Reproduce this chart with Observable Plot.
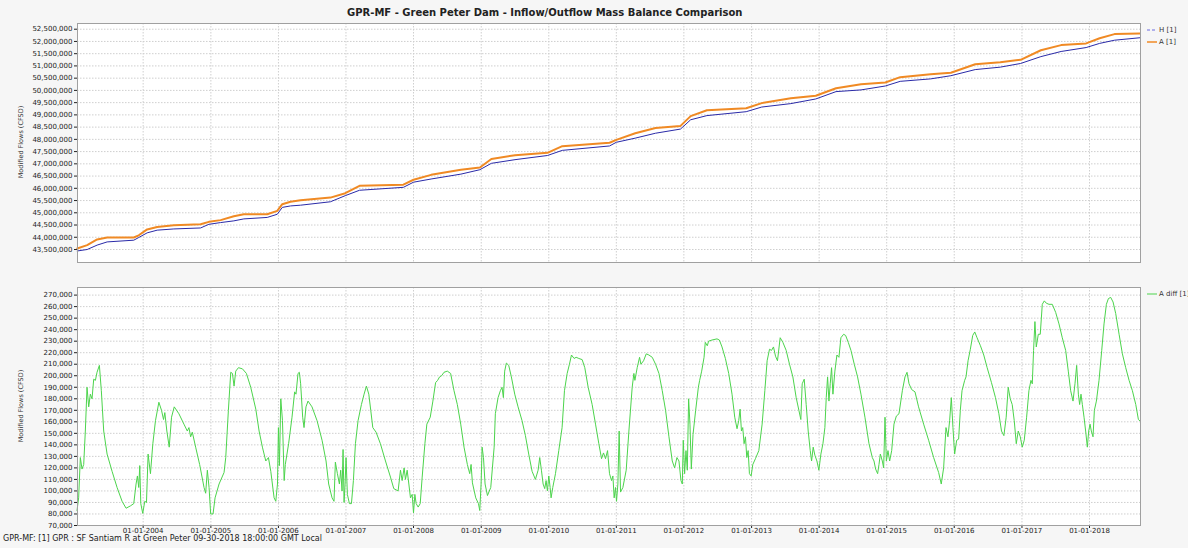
<!DOCTYPE html>
<html><head><meta charset="utf-8">
<script src="https://cdn.jsdelivr.net/npm/d3@7"></script>
<script src="https://cdn.jsdelivr.net/npm/@observablehq/plot@0.6"></script>
<style>
html,body{margin:0;padding:0;background:#f6f6f6;}
#wrap{position:relative;width:1188px;height:548px;overflow:hidden;font-family:"DejaVu Sans",sans-serif;color:#222;}
#title{position:absolute;left:347px;top:7px;font-weight:bold;font-size:10px;line-height:12px;white-space:nowrap;color:#222;}
.chart{position:absolute;left:0;}
.leg{position:absolute;left:1147px;font-size:7px;white-space:nowrap;display:flex;align-items:center;color:#333;}
.leg svg{margin-right:2px;}
.ylab{position:absolute;font-size:6.5px;white-space:nowrap;color:#333;transform:translate(-50%,-50%) rotate(-90deg);}
#footer{position:absolute;left:3px;top:535px;font-size:8px;line-height:8px;white-space:nowrap;color:#222;}
</style></head>
<body><div id="wrap">
<div id="title">GPR-MF - Green Peter Dam - Inflow/Outflow Mass Balance Comparison</div>
<div id="topChart" class="chart" style="top:0px"></div>
<div id="botChart" class="chart" style="top:270px"></div>
<div class="ylab" style="left:21px;top:142px">Modified Flows (CFSD)</div>
<div class="ylab" style="left:21px;top:406px">Modified Flows (CFSD)</div>
<div class="leg" style="top:26px"><svg width="10" height="6"><line x1="0" x2="10" y1="3" y2="3" stroke="#6a6ae0" stroke-width="1" stroke-dasharray="3,2"/></svg>H [1]</div>
<div class="leg" style="top:38px"><svg width="10" height="6"><line x1="0" x2="10" y1="3" y2="3" stroke="#f08a24" stroke-width="1.5"/></svg>A [1]</div>
<div class="leg" style="top:290px"><svg width="10" height="6"><line x1="0" x2="10" y1="3" y2="3" stroke="#4cd44c" stroke-width="1"/></svg>A diff [1]</div>
<div id="footer">GPR-MF: [1] GPR : SF Santiam R at Green Peter 09-30-2018 18:00:00 GMT Local</div>
</div>
<script>
// ---- data (decimal year, value) ----
const tickYears = [2004,2005,2006,2007,2008,2009,2010,2011,2012,2013,2014,2015,2016,2017,2018];
const topTicksM = [43.5,44,44.5,45,45.5,46,46.5,47,47.5,48,48.5,49,49.5,50,50.5,51,51.5,52,52.5];
const botTicksK = [70,80,90,100,110,120,130,140,150,160,170,180,190,200,210,220,230,240,250,260,270];

// A [1] cumulative (millions CFSD)
const seriesA = [[2003.024,43.54],[2003.171,43.68],[2003.319,43.91],[2003.467,43.99],[2003.861,43.99],[2003.935,44.08],[2004.059,44.32],[2004.207,44.42],[2004.453,44.49],[2004.848,44.53],[2004.971,44.63],[2005.144,44.70],[2005.340,44.86],[2005.488,44.94],[2005.834,44.94],[2005.983,45.08],[2006.057,45.35],[2006.179,45.45],[2006.327,45.51],[2006.77,45.62],[2006.99,45.80],[2007.20,46.10],[2007.85,46.15],[2008.00,46.35],[2008.26,46.55],[2008.70,46.76],[2008.98,46.85],[2009.15,47.20],[2009.50,47.35],[2009.98,47.45],[2010.20,47.72],[2010.90,47.86],[2011.00,47.98],[2011.28,48.25],[2011.58,48.46],[2011.95,48.55],[2012.10,48.95],[2012.34,49.19],[2012.92,49.27],[2013.15,49.48],[2013.58,49.68],[2013.95,49.78],[2014.25,50.09],[2014.62,50.25],[2014.98,50.32],[2015.20,50.54],[2015.65,50.66],[2015.95,50.72],[2016.31,51.07],[2016.68,51.15],[2016.98,51.25],[2017.28,51.64],[2017.58,51.85],[2017.95,51.92],[2018.15,52.13],[2018.37,52.30],[2018.744,52.32]];
// H [1] cumulative (millions CFSD)
const seriesH = [[2003.024,43.44],[2003.171,43.50],[2003.319,43.68],[2003.467,43.81],[2003.861,43.88],[2003.935,43.99],[2004.059,44.18],[2004.207,44.29],[2004.453,44.34],[2004.848,44.38],[2004.971,44.53],[2005.144,44.60],[2005.340,44.67],[2005.488,44.75],[2005.834,44.81],[2005.983,44.94],[2006.057,45.22],[2006.179,45.28],[2006.327,45.31],[2006.77,45.45],[2006.99,45.70],[2007.20,45.92],[2007.85,46.04],[2008.00,46.25],[2008.26,46.38],[2008.70,46.58],[2008.98,46.76],[2009.15,47.02],[2009.50,47.17],[2009.98,47.34],[2010.20,47.55],[2010.90,47.73],[2011.00,47.88],[2011.28,48.05],[2011.58,48.25],[2011.95,48.42],[2012.10,48.80],[2012.34,48.97],[2012.92,49.13],[2013.15,49.32],[2013.58,49.46],[2013.95,49.65],[2014.25,49.95],[2014.62,50.02],[2014.98,50.18],[2015.20,50.37],[2015.65,50.47],[2015.95,50.60],[2016.31,50.85],[2016.68,50.95],[2016.98,51.10],[2017.28,51.38],[2017.58,51.59],[2017.95,51.75],[2018.15,51.92],[2018.37,52.05],[2018.744,52.15]];
// A diff [1] (thousands CFSD)
const seriesDiff = [[2003.021,83],[2003.045,94],[2003.070,129],[2003.095,119],[2003.120,123],[2003.144,152],[2003.169,190],[2003.194,173],[2003.218,184],[2003.243,180],[2003.268,197],[2003.293,196],[2003.317,203],[2003.352,209],[2003.381,187],[2003.416,152],[2003.466,132],[2003.540,117],[2003.614,103],[2003.688,91],[2003.747,85],[2003.811,87],[2003.861,89],[2003.895,106],[2003.915,113],[2003.935,103],[2003.950,122],[2003.965,89],[2003.994,80.5],[2004.024,91],[2004.049,90],[2004.073,132],[2004.108,115],[2004.143,141],[2004.182,161],[2004.232,177],[2004.271,170],[2004.301,162],[2004.320,168],[2004.350,152],[2004.385,138],[2004.419,164],[2004.459,173],[2004.528,167],[2004.602,158],[2004.652,152],[2004.676,155],[2004.701,147],[2004.726,151],[2004.775,138],[2004.834,123],[2004.899,103],[2004.923,98],[2004.948,118],[2004.973,103],[2004.997,80],[2005.032,80],[2005.062,94],[2005.121,106],[2005.195,116],[2005.220,129],[2005.259,170],[2005.294,203],[2005.319,202],[2005.343,191],[2005.368,204],[2005.408,207],[2005.467,206],[2005.526,202],[2005.590,190],[2005.665,171],[2005.714,152],[2005.763,138],[2005.813,126],[2005.852,129],[2005.887,117],[2005.936,94],[2005.961,91],[2005.986,106],[2006.000,155],[2006.015,122],[2006.035,180],[2006.060,161],[2006.085,109],
[2006.102,123],[2006.151,141],[2006.201,164],[2006.240,186],[2006.260,184],[2006.290,202],[2006.310,203],[2006.329,193],[2006.359,164],[2006.379,155],[2006.408,173],[2006.438,178],[2006.497,173],[2006.572,161],[2006.646,144],[2006.705,126],[2006.744,106],[2006.794,94],[2006.823,91],[2006.843,125],[2006.873,115],[2006.903,106],[2006.922,118],[2006.942,100],[2006.957,136],[2006.972,90],[2006.987,106],[2007.001,129],[2007.021,97],[2007.051,89],[2007.081,89],[2007.110,109],[2007.140,141],[2007.179,161],[2007.229,175],[2007.268,184],[2007.303,191],[2007.338,184],[2007.367,170],[2007.397,155],[2007.446,151],[2007.510,141],[2007.585,126],[2007.659,112],[2007.708,102],[2007.772,100],[2007.807,118],[2007.832,109],[2007.861,120],[2007.881,110],[2007.906,118],[2007.931,106],[2007.955,94],[2007.980,97],[2008.000,81],[2008.020,97],[2008.039,89],[2008.069,86],[2008.099,89],[2008.128,112],[2008.168,141],[2008.197,158],[2008.247,164],[2008.286,178],[2008.326,194],[2008.356,196],[2008.385,199],[2008.415,200],[2008.450,203],[2008.499,204],[2008.548,202],[2008.598,187],[2008.647,175],[2008.697,158],[2008.746,138],[2008.795,123],[2008.830,115],[2008.850,123],[2008.870,107],[2008.919,94],[2008.959,89],[2008.978,83],[2008.998,106],[2009.013,138],[2009.033,129],[2009.057,106],[2009.092,96],[2009.141,103],[2009.191,138],
[2009.209,167],[2009.249,181],[2009.283,187],[2009.308,190],[2009.328,181],[2009.347,204],[2009.372,211],[2009.407,209],[2009.446,199],[2009.496,184],[2009.545,173],[2009.604,161],[2009.654,148],[2009.703,132],[2009.753,117],[2009.802,110],[2009.842,118],[2009.866,129],[2009.891,118],[2009.916,106],[2009.940,102],[2009.960,109],[2009.980,100],[2010.000,113],[2010.020,103],[2010.034,94],[2010.059,103],[2010.099,115],[2010.148,135],[2010.197,155],[2010.232,187],[2010.272,202],[2010.306,210],[2010.336,218],[2010.375,215],[2010.405,216],[2010.445,215],[2010.494,214],[2010.533,207],[2010.583,190],[2010.642,175],[2010.692,158],[2010.741,141],[2010.781,128],[2010.810,133],[2010.840,128],[2010.870,135],[2010.899,115],[2010.929,109],[2010.949,113],[2010.968,94],[2010.988,103],[2011.003,91],[2011.023,106],[2011.042,152],[2011.062,99],[2011.097,103],[2011.146,118],[2011.186,152],[2011.235,190],[2011.260,202],[2011.275,196],[2011.309,207],[2011.344,216],[2011.364,210],[2011.403,213],[2011.443,219],[2011.482,218],[2011.532,216],[2011.581,210],[2011.631,202],[2011.680,187],[2011.729,170],[2011.779,147],[2011.828,126],[2011.863,120],[2011.897,129],[2011.927,126],[2011.957,109],[2011.977,106],[2011.991,144],[2012.011,115],[2012.031,135],[2012.051,118],[2012.070,180],[2012.090,158],[2012.110,119],[2012.135,149],[2012.174,170],[2012.214,190],[2012.233,196],[2012.263,204],[2012.298,216],
[2012.316,229],[2012.346,226],[2012.365,230],[2012.415,231],[2012.489,232],[2012.524,231],[2012.563,225],[2012.613,215],[2012.662,202],[2012.711,184],[2012.751,164],[2012.785,154],[2012.810,161],[2012.830,171],[2012.850,152],[2012.869,155],[2012.889,141],[2012.909,147],[2012.929,129],[2012.949,135],[2012.968,115],[2012.993,113],[2013.018,123],[2013.057,128],[2013.107,135],[2013.156,158],[2013.196,187],[2013.230,213],[2013.265,223],[2013.295,222],[2013.324,225],[2013.354,217],[2013.383,213],[2013.423,233],[2013.463,229],[2013.512,222],[2013.561,210],[2013.611,199],[2013.660,181],[2013.700,170],[2013.729,162],[2013.749,193],[2013.779,197],[2013.808,175],[2013.838,152],[2013.868,135],[2013.888,126],[2013.912,138],[2013.937,131],[2013.967,126],[2013.996,118],[2014.026,132],[2014.056,141],[2014.085,155],[2014.105,181],[2014.125,199],[2014.145,178],[2014.164,193],[2014.184,207],[2014.204,184],[2014.233,204],[2014.263,218],[2014.293,216],[2014.322,233],[2014.362,236],[2014.392,235],[2014.431,229],[2014.471,222],[2014.520,210],[2014.569,199],[2014.619,184],[2014.678,164],[2014.738,141],[2014.787,129],[2014.812,126],[2014.836,119],[2014.866,115],[2014.886,123],[2014.906,132],[2014.935,126],[2014.955,120],[2014.975,164],[2014.995,126],[2015.019,135],[2015.044,126],[2015.074,135],[2015.108,158],[2015.143,165],[2015.182,167],[2015.232,187],[2015.271,199],[2015.301,203],[2015.331,193],[2015.370,188],[2015.419,186],
[2015.472,173],[2015.547,158],[2015.621,144],[2015.695,129],[2015.769,116],[2015.808,106],[2015.843,120],[2015.878,155],[2015.907,147],[2015.932,161],[2015.957,181],[2015.981,155],[2016.006,132],[2016.036,144],[2016.065,145],[2016.090,170],[2016.115,187],[2016.154,196],[2016.174,199],[2016.204,213],[2016.238,223],[2016.273,235],[2016.303,238],[2016.337,233],[2016.387,226],[2016.436,218],[2016.486,207],[2016.550,194],[2016.609,181],[2016.659,167],[2016.698,152],[2016.733,148],[2016.767,164],[2016.797,190],[2016.827,180],[2016.856,175],[2016.886,161],[2016.916,141],[2016.945,152],[2016.975,147],[2017.004,138],[2017.034,144],[2017.069,164],[2017.103,187],[2017.133,196],[2017.153,193],[2017.172,222],[2017.192,247],[2017.212,225],[2017.242,236],[2017.271,236],[2017.301,262],[2017.331,265],[2017.360,263],[2017.400,262],[2017.449,262],[2017.499,255],[2017.548,245],[2017.597,233],[2017.647,222],[2017.686,204],[2017.721,187],[2017.756,178],[2017.785,193],[2017.810,209],[2017.835,184],[2017.854,175],[2017.874,184],[2017.894,175],[2017.919,164],[2017.943,152],[2017.968,138],[2017.988,152],[2018.008,158],[2018.027,152],[2018.052,147],[2018.072,170],[2018.102,178],[2018.141,196],[2018.181,222],[2018.215,245],[2018.250,262],[2018.280,267],[2018.314,268],[2018.349,264],[2018.388,254],[2018.438,236],[2018.487,219],[2018.536,207],[2018.586,196],[2018.635,187],[2018.685,175],[2018.724,162],[2018.744,161]];

// ---- helpers ----
function toDate(y){const yr=Math.floor(y);const a=Date.UTC(yr,0,1),b=Date.UTC(yr+1,0,1);return new Date(a+(y-yr)*(b-a));}
const rows=(s,k)=>s.map(([t,v])=>({date:toDate(t),v:v*k}));
const dataA=rows(seriesA,1e6), dataH=rows(seriesH,1e6), dataD=rows(seriesDiff,1e3);
const yearDates=tickYears.map(y=>new Date(Date.UTC(y,0,1)));
const topTicks=topTicksM.map(v=>v*1e6), botTicks=botTicksK.map(v=>v*1e3);
const xDomain=[toDate(2003.028),toDate(2018.755)];
const grid="#cfcfcf", dash="1.5,1.5";
const fmt=d3.format(",");
const st={background:"transparent",fontSize:"7px",fontFamily:"DejaVu Sans, sans-serif",color:"#222",overflow:"visible"};

const topC=Plot.plot({
  width:1188,height:270,marginLeft:77,marginRight:48,marginTop:23,marginBottom:8,
  style:st,
  x:{type:"utc",domain:xDomain,axis:null},
  y:{domain:[42969000,52733000],ticks:topTicks,tickFormat:fmt,tickSize:3,tickPadding:2,label:null},
  marks:[
    Plot.frame({fill:"white",stroke:null}),
    Plot.ruleY(topTicks,{stroke:grid,strokeDasharray:dash}),
    Plot.ruleX(yearDates,{stroke:grid,strokeDasharray:dash}),
    Plot.line(dataH,{x:"date",y:"v",stroke:"#2a2aa8",strokeWidth:1}),
    Plot.line(dataA,{x:"date",y:"v",stroke:"#f08a24",strokeWidth:2}),
    Plot.frame({stroke:"#a0a0a0"})
  ]
});
document.getElementById("topChart").append(topC);

const botC=Plot.plot({
  width:1188,height:278,marginLeft:77,marginRight:48,marginTop:17,marginBottom:23,
  style:st,
  x:{type:"utc",domain:xDomain,ticks:yearDates,tickFormat:d3.utcFormat("%m-%d-%Y"),tickSize:3,tickPadding:0,label:null},
  y:{domain:[70000,276600],ticks:botTicks,tickFormat:fmt,tickSize:3,tickPadding:2,label:null},
  marks:[
    Plot.frame({fill:"white",stroke:null}),
    Plot.ruleY(botTicks,{stroke:grid,strokeDasharray:dash}),
    Plot.ruleX(yearDates,{stroke:grid,strokeDasharray:dash}),
    Plot.line(dataD,{x:"date",y:"v",stroke:"#4cd44c",strokeWidth:1}),
    Plot.frame({stroke:"#a0a0a0"})
  ]
});
document.getElementById("botChart").append(botC);
</script>
</body></html>
